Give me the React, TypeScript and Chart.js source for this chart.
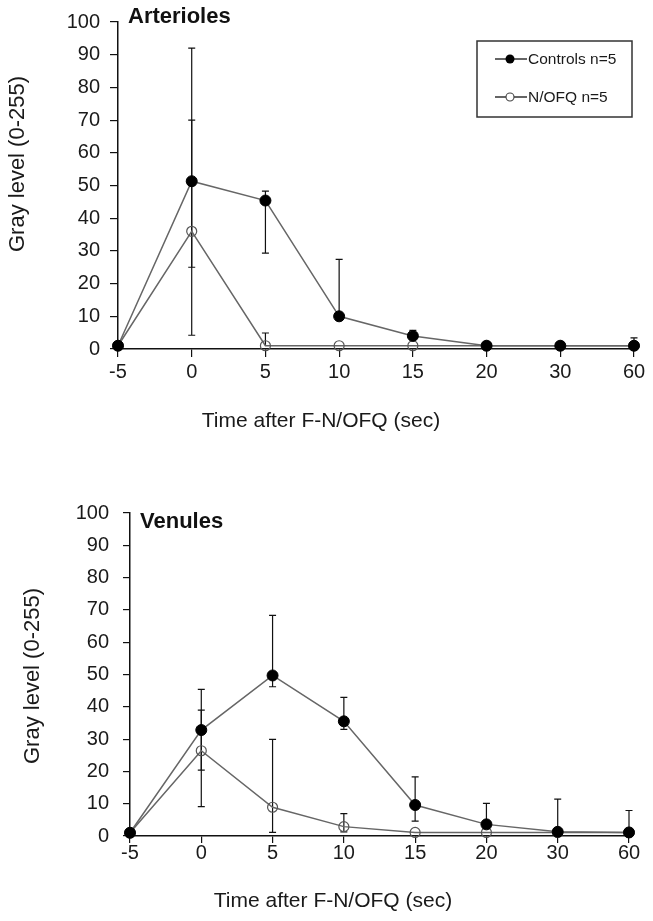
import React, { useEffect, useRef } from "react";
import { Chart, registerables } from "chart.js";

Chart.register(...registerables);

const categories = ["-5", "0", "5", "10", "15", "20", "30", "60"];
const yTicks = [0, 10, 20, 30, 40, 50, 60, 70, 80, 90, 100];

// Arterioles
const artControls = [1, 51.3, 45.4, 10.0, 4.0, 1, 1, 1];
const artControlsHi = [null, 92, 48.3, 27.4, 5.7, null, null, 3.4];
const artControlsLo = [null, 25, 29.3, null, null, null, null, null];
const artNofq = [1, 36, 1, 1, 1, 1, 1, 1];
const artNofqHi = [null, 70, 4.9, null, null, null, null, null];
const artNofqLo = [null, 4.2, null, null, null, null, null, null];

// Venules
const venControls = [1, 32.8, 49.7, 35.5, 9.6, 3.6, 1.3, 1.1];
const venControlsHi = [null, 45.4, 68.3, 42.9, 18.3, 10.1, 11.4, 7.9];
const venControlsLo = [null, 20.4, 46.2, 33, 4.6, null, null, null];
const venNofq = [1, 26.4, 8.9, 2.9, 1.1, 1.1, 1.1, 1.1];
const venNofqHi = [null, 39, 29.9, 6.9, null, null, null, null];
const venNofqLo = [null, 9.1, 1.1, 1.3, null, null, null, null];

const legendLabels = ["Controls n=5", "N/OFQ n=5"];
const yTitle = "Gray level (0-255)";
const xTitle = "Time after F-N/OFQ (sec)";

const FONT = "'Liberation Sans', Arial, sans-serif";
const LINE = "#666";

type Cfg = {
  title: string;
  controls: number[];
  controlsHi: (number | null)[];
  controlsLo: (number | null)[];
  nofq: number[];
  nofqHi: (number | null)[];
  nofqLo: (number | null)[];
  yWidth: number;
  xHeight: number;
  padding: { top: number; right: number; bottom: number; left: number };
  yTickPad: number;
  xTickPad: number;
  tickLen: number;
  titlePos: [number, number];
  yTitlePos: [number, number];
  xTitlePos: [number, number];
  legend: boolean;
};

function makeConfig(cfg: Cfg): any {
  const plugin = {
    id: "custom",
    beforeDatasetsDraw(chart: any) {
      const ctx = chart.ctx;
      const xs = chart.scales.x;
      const ys = chart.scales.y;
      ctx.save();
      ctx.strokeStyle = "#111";
      ctx.lineWidth = 1.2;
      const series = [
        [cfg.controls, cfg.controlsHi, cfg.controlsLo],
        [cfg.nofq, cfg.nofqHi, cfg.nofqLo],
      ] as const;
      for (const [vals, hi, lo] of series) {
        vals.forEach((v, i) => {
          const px = xs.getPixelForValue(i);
          const py = ys.getPixelForValue(v);
          for (const end of [hi[i], lo[i]]) {
            if (end == null) continue;
            const pe = ys.getPixelForValue(end);
            ctx.beginPath();
            ctx.moveTo(px, py);
            ctx.lineTo(px, pe);
            ctx.moveTo(px - 3.5, pe);
            ctx.lineTo(px + 3.5, pe);
            ctx.stroke();
          }
        });
      }
      ctx.restore();
    },
    afterDraw(chart: any) {
      const ctx = chart.ctx;
      ctx.save();
      ctx.fillStyle = "#111";
      ctx.font = `bold 22px ${FONT}`;
      ctx.textAlign = "left";
      ctx.textBaseline = "middle";
      ctx.fillText(cfg.title, cfg.titlePos[0], cfg.titlePos[1]);

      ctx.font = `21px ${FONT}`;
      ctx.textAlign = "center";
      ctx.fillStyle = "#1a1a1a";
      ctx.fillText(xTitle, cfg.xTitlePos[0], cfg.xTitlePos[1]);
      ctx.save();
      ctx.font = `22px ${FONT}`;
      ctx.translate(cfg.yTitlePos[0], cfg.yTitlePos[1]);
      ctx.rotate(-Math.PI / 2);
      ctx.fillText(yTitle, 0, 0);
      ctx.restore();

      if (cfg.legend) {
        const bx = 477, by = 41, bw = 155, bh = 76;
        ctx.strokeStyle = "#333";
        ctx.lineWidth = 1.5;
        ctx.strokeRect(bx, by, bw, bh);
        const rows = [59, 97];
        ctx.font = `15.5px ${FONT}`;
        ctx.textAlign = "left";
        rows.forEach((ry, k) => {
          ctx.strokeStyle = "#111";
          ctx.lineWidth = 1.3;
          ctx.beginPath();
          ctx.moveTo(495, ry);
          ctx.lineTo(527, ry);
          ctx.stroke();
          ctx.beginPath();
          ctx.arc(510, ry, k === 0 ? 4.5 : 4, 0, Math.PI * 2);
          if (k === 0) {
            ctx.fillStyle = "#000";
            ctx.fill();
          } else {
            ctx.fillStyle = "#fff";
            ctx.fill();
            ctx.strokeStyle = "#444";
            ctx.lineWidth = 1.1;
            ctx.stroke();
          }
          ctx.fillStyle = "#1a1a1a";
          ctx.fillText(legendLabels[k], 528, ry + 1);
        });
      }
      ctx.restore();
    },
  };

  const tickFont = { family: FONT, size: 20 };
  return {
    type: "line",
    data: {
      labels: categories,
      datasets: [
        {
          label: legendLabels[0],
          data: cfg.controls,
          borderColor: LINE,
          borderWidth: 1.5,
          pointRadius: 5.5,
          pointBackgroundColor: "#000",
          pointBorderColor: "#000",
          pointBorderWidth: 1,
          clip: false,
          tension: 0,
        },
        {
          label: legendLabels[1],
          data: cfg.nofq,
          borderColor: LINE,
          borderWidth: 1.5,
          pointRadius: 5,
          pointBackgroundColor: "rgba(255,255,255,0)",
          pointBorderColor: "#555",
          pointBorderWidth: 1.2,
          clip: false,
          tension: 0,
        },
      ],
    },
    options: {
      responsive: false,
      animation: false,
      devicePixelRatio: 1,
      layout: { padding: cfg.padding },
      plugins: { legend: { display: false }, tooltip: { enabled: false }, title: { display: false } },
      events: [],
      scales: {
        x: {
          type: "category",
          offset: false,
          grid: { drawOnChartArea: false, drawTicks: true, tickLength: cfg.tickLen, color: "#111", lineWidth: 1.2 },
          border: { display: true, color: "#111", width: 1.5 },
          ticks: { font: tickFont, color: "#1a1a1a", padding: cfg.xTickPad, maxRotation: 0, autoSkip: false },
          afterFit: (s: any) => {
            s.height = cfg.xHeight;
          },
        },
        y: {
          type: "linear",
          min: 0,
          max: 100,
          grid: { drawOnChartArea: false, drawTicks: true, tickLength: cfg.tickLen, color: "#111", lineWidth: 1.2 },
          border: { display: true, color: "#111", width: 1.5 },
          ticks: { font: tickFont, color: "#1a1a1a", padding: cfg.yTickPad, stepSize: 10 },
          afterBuildTicks: (s: any) => {
            s.ticks = yTicks.map((v) => ({ value: v }));
          },
          afterFit: (s: any) => {
            s.width = cfg.yWidth;
          },
        },
      },
    },
    plugins: [plugin],
  };
}

const topCfg: Cfg = {
  title: "Arterioles",
  controls: artControls,
  controlsHi: artControlsHi,
  controlsLo: artControlsLo,
  nofq: artNofq,
  nofqHi: artNofqHi,
  nofqLo: artNofqLo,
  yWidth: 118,
  xHeight: 40,
  padding: { top: 17, right: 19, bottom: 71, left: 0 },
  yTickPad: 10,
  xTickPad: 3,
  tickLen: 8,
  titlePos: [128, 17],
  yTitlePos: [18, 164],
  xTitlePos: [321, 421],
  legend: true,
};

const bottomCfg: Cfg = {
  title: "Venules",
  controls: venControls,
  controlsHi: venControlsHi,
  controlsLo: venControlsLo,
  nofq: venNofq,
  nofqHi: venNofqHi,
  nofqLo: venNofqLo,
  yWidth: 130,
  xHeight: 40,
  padding: { top: 53, right: 24, bottom: 45, left: 0 },
  yTickPad: 14,
  xTickPad: -2,
  tickLen: 7,
  titlePos: [140, 62],
  yTitlePos: [33, 216],
  xTitlePos: [333, 441],
  legend: false,
};

function ChartCanvas({ cfg, height }: { cfg: Cfg; height: number }) {
  const ref = useRef<HTMLCanvasElement | null>(null);
  useEffect(() => {
    if (!ref.current) return;
    const chart = new Chart(ref.current, makeConfig(cfg));
    return () => chart.destroy();
  }, [cfg]);
  return <canvas ref={ref} width={653} height={height} style={{ display: "block", width: 653, height }} />;
}

export default function App() {
  return (
    <div style={{ position: "absolute", left: 0, top: 0, width: 653, height: 921, background: "#fff" }}>
      <ChartCanvas cfg={topCfg} height={460} />
      <ChartCanvas cfg={bottomCfg} height={461} />
    </div>
  );
}
